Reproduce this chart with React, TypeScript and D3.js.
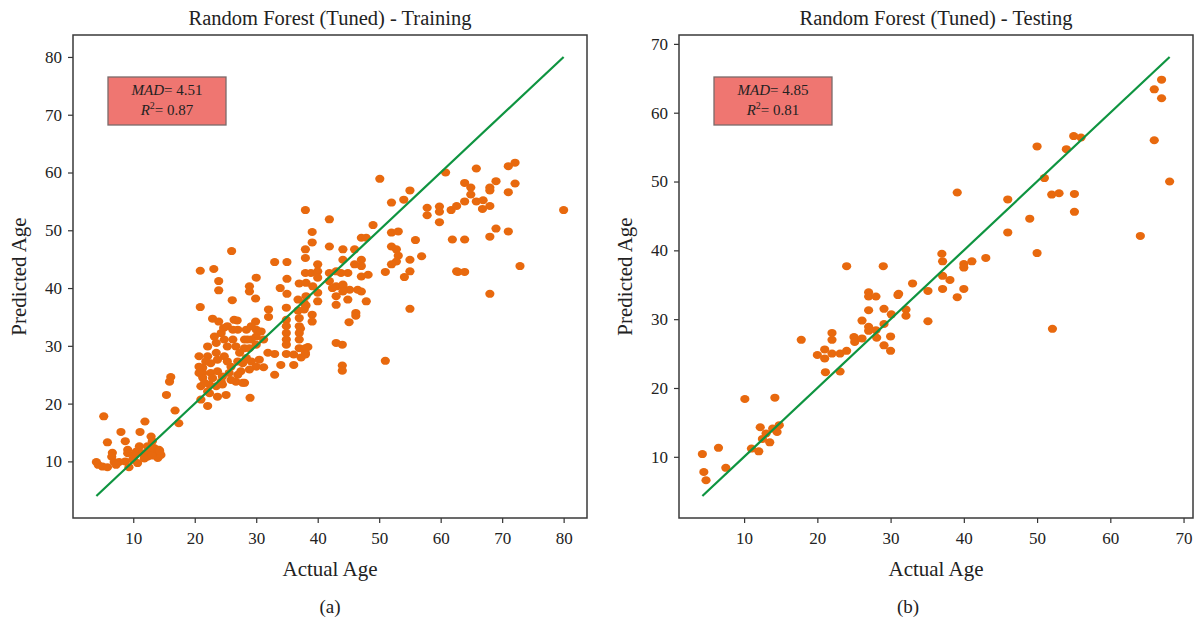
import React, { useEffect, useRef } from 'react';
import * as d3 from 'd3';

// training set (actual vs predicted age)
const trainActual = [
  4.0, 4.3, 5.0, 5.8, 5.2, 5.8, 6.6, 6.5, 6.9, 7.7, 8.0, 8.7, 9.1, 9.1, 8.7, 9.3, 9.9, 10.7, 10.5, 11.1,
  11.0, 11.9, 11.5, 12.3, 12.3, 12.9, 13.1, 13.4, 13.7, 14.0, 14.2, 14.5, 12.6, 15.4, 15.9, 16.1, 16.8, 17.4, 7.2, 10.2,
  11.8, 13.0, 14.3, 26.0, 20.9, 23.1, 23.9, 23.9, 26.1, 20.9, 22.9, 23.9, 26.9, 29.9, 28.9, 28.9, 29.9, 30.0, 33.0, 35.0,
  33.9, 35.0, 35.0, 34.9, 32.0, 32.0, 37.0, 36.8, 36.8, 37.0, 37.0, 37.0, 37.0, 37.0, 34.9, 34.9, 34.9, 34.9, 34.9, 34.9,
  36.1, 34.0, 36.1, 33.0, 33.0, 37.3, 38.4, 30.0, 30.0, 30.0, 31.2, 29.2, 28.4, 28.1, 28.1, 28.9, 27.0, 26.2, 26.2, 26.7,
  27.3, 28.4, 29.2, 30.0, 31.2, 28.9, 27.5, 27.0, 28.1, 25.1, 29.0, 24.3, 24.8, 23.5, 22.1, 23.5, 22.1, 24.8, 23.7, 22.6,
  21.3, 21.3, 21.3, 22.6, 23.7, 24.5, 25.6, 25.9, 26.7, 27.8, 22.4, 21.0, 23.5, 24.5, 22.1, 26.4, 24.7, 21.0, 22.1, 20.7,
  20.7, 20.7, 21.8, 23.2, 25.3, 25.3, 25.3, 27.0, 27.8, 28.6, 29.2, 30.8, 22.9, 21.6, 24.3, 25.9, 23.7, 22.4, 30.5, 31.9,
  38.0, 38.9, 38.0, 50.1, 60.8, 55.0, 52.0, 54.0, 38.0, 41.9, 49.0, 57.8, 57.8, 59.8, 59.8, 59.8, 61.7, 62.6, 61.9, 62.6,
  39.1, 39.1, 38.0, 38.0, 41.9, 47.1, 47.9, 52.0, 53.1, 55.9, 52.0, 52.8, 53.1, 52.8, 52.0, 55.0, 56.9, 55.0, 54.1, 51.0,
  44.1, 44.1, 46.0, 47.1, 47.1, 46.0, 47.1, 48.2, 44.9, 43.8, 43.0, 41.9, 40.0, 40.0, 40.0, 38.1, 39.2, 41.9, 43.0, 44.1,
  45.2, 46.5, 47.1, 47.9, 44.9, 43.0, 43.0, 40.0, 40.0, 38.1, 38.1, 46.2, 45.1, 39.1, 39.1, 55.0, 43.0, 44.0, 44.0, 44.0,
  51.0, 46.2, 38.0, 38.0, 37.2, 68.0, 72.9, 62.8, 63.9, 44.1, 44.1, 42.4, 37.8, 37.8, 65.8, 71.0, 72.1, 63.9, 64.9, 64.9,
  68.0, 68.0, 69.0, 72.1, 71.0, 63.9, 65.8, 66.9, 66.8, 68.0, 80.0, 63.9, 68.0, 69.0, 71.0,
];
const trainPredicted = [
  9.9, 9.4, 9.1, 9.0, 17.8, 13.3, 11.5, 10.8, 9.9, 9.9, 15.1, 13.5, 12.0, 11.4, 10.0, 9.0, 10.3, 9.7, 11.7, 15.1,
  12.6, 16.9, 11.4, 12.6, 10.8, 14.3, 13.5, 12.3, 11.4, 10.6, 12.0, 11.1, 11.6, 21.5, 23.8, 24.6, 18.8, 16.6, 9.4, 11.0,
  10.5, 11.0, 11.8, 46.4, 43.0, 43.3, 41.2, 39.6, 37.9, 36.7, 34.7, 34.2, 34.4, 34.2, 40.3, 39.4, 38.2, 41.8, 44.5, 44.5,
  40.0, 41.6, 39.0, 36.6, 36.3, 35.0, 40.8, 38.0, 36.1, 34.8, 33.4, 32.2, 31.1, 29.6, 34.5, 33.4, 32.2, 31.1, 30.2, 28.6,
  28.5, 26.7, 26.7, 28.6, 25.0, 28.0, 29.8, 32.8, 31.6, 30.2, 31.1, 31.1, 32.8, 31.1, 29.6, 29.6, 32.8, 32.8, 31.1, 29.9,
  28.8, 27.9, 27.3, 26.4, 26.3, 25.9, 25.6, 25.0, 23.6, 21.5, 21.0, 32.2, 31.1, 30.5, 29.9, 28.8, 28.2, 28.2, 27.6, 27.0,
  26.2, 25.3, 24.5, 25.3, 25.6, 24.7, 25.3, 26.4, 23.8, 23.6, 23.3, 23.0, 23.0, 23.3, 19.6, 34.5, 33.1, 20.7, 22.1, 26.4,
  25.3, 28.2, 27.3, 31.6, 33.4, 29.9, 27.3, 27.3, 27.0, 31.1, 33.4, 32.5, 24.4, 23.6, 23.8, 24.1, 21.2, 21.8, 27.6, 28.8,
  42.6, 42.6, 28.8, 58.9, 60.0, 56.9, 54.8, 55.3, 53.5, 51.9, 50.9, 53.9, 52.6, 54.1, 53.2, 51.4, 53.5, 54.2, 48.4, 42.9,
  49.7, 47.9, 46.7, 45.2, 47.2, 48.7, 48.7, 49.6, 49.8, 48.3, 47.2, 46.7, 45.6, 44.6, 44.1, 44.9, 45.5, 42.9, 41.9, 42.8,
  46.7, 44.9, 46.7, 44.9, 43.8, 44.1, 42.0, 42.3, 42.6, 42.6, 42.9, 42.6, 44.1, 42.9, 41.8, 40.9, 40.3, 41.2, 40.3, 40.3,
  39.7, 39.7, 39.4, 37.7, 38.0, 38.6, 37.1, 39.2, 37.7, 38.6, 37.0, 35.7, 34.1, 35.4, 34.2, 36.4, 30.5, 30.2, 26.6, 25.7,
  27.4, 35.2, 29.6, 28.5, 33.0, 39.0, 43.8, 42.8, 42.8, 40.6, 39.4, 40.0, 37.4, 36.3, 60.7, 61.1, 61.7, 58.2, 57.4, 56.2,
  57.4, 56.9, 58.5, 58.1, 56.6, 55.0, 55.0, 55.2, 53.7, 54.2, 53.5, 48.4, 48.9, 50.3, 49.8,
];

// testing set
const testActual = [
  4.3, 4.5, 4.8, 6.5, 7.5, 10.1, 11.0, 12.0, 12.2, 12.5, 13.0, 13.5, 13.9, 14.2, 14.5, 14.8, 17.8, 20.0, 21.0, 21.0,
  21.1, 22.0, 22.0, 22.0, 23.1, 23.1, 24.0, 24.0, 25.0, 25.1, 26.1, 26.1, 27.0, 27.0, 27.0, 27.0, 27.0, 28.0, 28.0, 28.1,
  29.0, 29.1, 29.1, 29.1, 30.0, 30.0, 30.1, 31.0, 37.1, 40.0, 40.0, 41.1, 43.0, 37.1, 38.1, 33.0, 31.1, 35.1, 37.1, 40.0,
  39.1, 32.1, 32.1, 35.1, 52.1, 37.0, 39.1, 46.0, 46.0, 49.0, 50.0, 50.0, 51.0, 52.0, 53.0, 54.0, 55.0, 56.0, 55.1, 55.1,
  64.1, 66.0, 66.0, 67.0, 67.0, 68.1,
];
const testPredicted = [
  10.4, 7.8, 6.6, 11.3, 8.4, 18.4, 11.2, 10.8, 14.3, 12.6, 13.4, 12.1, 14.1, 18.6, 13.6, 14.6, 27.0, 24.8, 25.6, 24.3,
  22.3, 28.0, 27.0, 25.0, 25.0, 22.4, 25.4, 37.7, 27.4, 26.7, 27.2, 29.8, 33.9, 33.3, 31.3, 28.9, 28.3, 33.3, 28.4, 27.3,
  37.7, 31.5, 29.3, 26.2, 27.5, 25.4, 30.7, 33.5, 38.4, 38.0, 37.5, 38.4, 38.9, 36.3, 35.7, 35.2, 33.7, 34.1, 34.4, 34.4,
  33.2, 31.4, 30.5, 29.7, 28.6, 39.5, 48.4, 47.4, 42.6, 44.6, 55.1, 39.6, 50.5, 48.1, 48.3, 54.7, 56.6, 56.4, 48.2, 45.6,
  42.1, 63.4, 56.0, 64.8, 62.1, 50.0,
];

const trainTicks = [10, 20, 30, 40, 50, 60, 70, 80];
const testTicks = [10, 20, 30, 40, 50, 60, 70];

const FONT = '"Liberation Serif", "DejaVu Serif", serif';
const DOT = '#e8690e';
const LINE = '#0e9440';

const panels = [
  { title: 'Random Forest (Tuned) - Training', actual: trainActual, predicted: trainPredicted, ticks: trainTicks, mad: '4.51', r2: '0.87', x0: 73, caption: '(a)', capX: 330 },
  { title: 'Random Forest (Tuned) - Testing', actual: testActual, predicted: testPredicted, ticks: testTicks, mad: '4.85', r2: '0.81', x0: 679, caption: '(b)', capX: 908 },
];

export default function App() {
  const ref = useRef<SVGSVGElement>(null);

  useEffect(() => {
    const svg = d3.select(ref.current);
    svg.selectAll('*').remove();
    const top = 35;
    const bottom = 518;
    const w = 514;

    panels.forEach((p) => {
      const all = p.actual.concat(p.predicted);
      const [lo, hi] = d3.extent(all) as [number, number];
      const pad = (hi - lo) * 0.05;
      const x = d3.scaleLinear().domain([lo - pad, hi + pad]).range([p.x0, p.x0 + w]);
      const y = d3.scaleLinear().domain([lo - pad, hi + pad]).range([bottom, top]);
      const cx = p.x0 + w / 2;

      const g = svg.append('g');

      // axes
      const xa = g.append('g').attr('transform', `translate(0,${bottom})`)
        .call(d3.axisBottom(x).tickValues(p.ticks).tickSize(5).tickPadding(9).tickFormat(d3.format('d')));
      const ya = g.append('g').attr('transform', `translate(${p.x0},0)`)
        .call(d3.axisLeft(y).tickValues(p.ticks).tickSize(5).tickPadding(6).tickFormat(d3.format('d')));
      [xa, ya].forEach((a) => {
        a.select('.domain').remove();
        a.selectAll('line').attr('stroke', '#333').attr('stroke-width', 1.2);
        a.selectAll('text').attr('font-family', FONT).attr('font-size', 17).attr('fill', '#222');
      });

      // points
      g.append('g')
        .selectAll('ellipse')
        .data(p.actual)
        .enter()
        .append('ellipse')
        .attr('cx', (d) => x(d))
        .attr('cy', (d, i) => y(p.predicted[i]))
        .attr('rx', 4.6)
        .attr('ry', 4.0)
        .attr('fill', DOT);

      // identity line
      const [amin, amax] = d3.extent(p.actual) as [number, number];
      g.append('line')
        .attr('x1', x(amin)).attr('y1', y(amin))
        .attr('x2', x(amax)).attr('y2', y(amax))
        .attr('stroke', LINE)
        .attr('stroke-width', 2.2);

      // frame
      g.append('rect')
        .attr('x', p.x0).attr('y', top)
        .attr('width', w).attr('height', bottom - top)
        .attr('fill', 'none')
        .attr('stroke', '#3a3a3a')
        .attr('stroke-width', 1.5);

      // metrics box
      const bx = p.x0 + 35;
      g.append('rect')
        .attr('x', bx).attr('y', 77)
        .attr('width', 118).attr('height', 48)
        .attr('fill', '#ef7671')
        .attr('stroke', '#7a6a6a')
        .attr('stroke-width', 1.3);
      const t1 = g.append('text').attr('x', bx + 59).attr('y', 95)
        .attr('text-anchor', 'middle').attr('font-family', FONT).attr('font-size', 15).attr('fill', '#222');
      t1.append('tspan').attr('font-style', 'italic').text('MAD');
      t1.append('tspan').text('= ' + p.mad);
      const t2 = g.append('text').attr('x', bx + 59).attr('y', 115)
        .attr('text-anchor', 'middle').attr('font-family', FONT).attr('font-size', 15).attr('fill', '#222');
      t2.append('tspan').attr('font-style', 'italic').text('R');
      t2.append('tspan').attr('font-size', 10).attr('dy', -6).text('2');
      t2.append('tspan').attr('dy', 6).text('= ' + p.r2);

      // titles and labels
      g.append('text').attr('x', cx).attr('y', 25).attr('text-anchor', 'middle')
        .attr('font-family', FONT).attr('font-size', 20.5).attr('fill', '#222').text(p.title);
      g.append('text').attr('x', cx).attr('y', 576).attr('text-anchor', 'middle')
        .attr('font-family', FONT).attr('font-size', 21).attr('fill', '#222').text('Actual Age');
      g.append('text')
        .attr('transform', `translate(${p.x0 - 47},${(top + bottom) / 2}) rotate(-90)`)
        .attr('text-anchor', 'middle')
        .attr('font-family', FONT).attr('font-size', 21).attr('fill', '#222').text('Predicted Age');
      g.append('text').attr('x', p.capX).attr('y', 613).attr('text-anchor', 'middle')
        .attr('font-family', FONT).attr('font-size', 19).attr('fill', '#222').text(p.caption);
    });
  }, []);

  return (
    <svg
      ref={ref}
      width={1202}
      height={622}
      style={{ position: 'absolute', left: 0, top: 0, background: '#fff' }}
    />
  );
}
